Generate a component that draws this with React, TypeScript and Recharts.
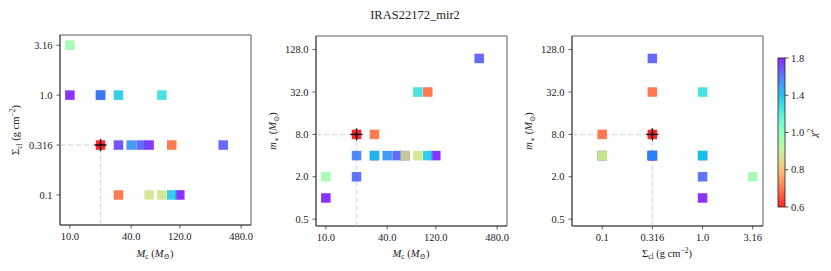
import React from 'react';
import { ScatterChart, Scatter, XAxis, YAxis, ReferenceLine, ReferenceArea } from 'recharts';

// model grid points (one entry per fitted model)
const mcValues = [10, 10, 20, 20, 30, 80, 30, 40, 50, 60, 100, 320, 30, 60, 80, 100, 120];
const sigmaValues = [3.16, 1.0, 1.0, 1.0, 1.0, 1.0, 0.316, 0.316, 0.316, 0.316, 0.316, 0.316, 0.1, 0.1, 0.1, 0.1, 0.1];
const mstarValues = [2, 1, 2, 4, 4, 32, 4, 4, 4, 4, 32, 96, 8, 4, 4, 4, 4];
const chi2Values = [0.96, 1.77, 1.61, 1.56, 1.35, 1.27, 1.69, 1.51, 1.64, 1.75, 0.7, 1.64, 0.7, 0.88, 0.88, 1.35, 1.77];

const best = { mc: 20, sigma: 0.316, mstar: 8, chi2: 0.6 };

const mcTicks = [10, 40, 120, 480];
const sigmaTicks = [0.1, 0.316, 1.0, 3.16];
const mstarTicks = [0.5, 2, 8, 32, 128];
const cbarTicks = [0.6, 0.8, 1.0, 1.4, 1.8];

const mcDomain = [8, 600];
const sigmaDomain = [0.05, 4];
const mstarDomain = [0.4, 200];

const FONT = '"Liberation Serif", "DejaVu Serif", serif';
const ALPHA = 0.85;

const rows = mcValues
    .map((mc, i) => ({ mc, sigma: sigmaValues[i], mstar: mstarValues[i], chi2: chi2Values[i] }))
    .sort((a, b) => b.chi2 - a.chi2);

// matplotlib "rainbow"
function rainbow(t) {
    const r = Math.min(1, Math.abs(2 * t - 0.5));
    const g = Math.sin(Math.PI * t);
    const b = Math.cos((Math.PI * t) / 2);
    const h = v => Math.round(Math.max(0, Math.min(1, v)) * 255);
    return `rgb(${h(r)},${h(g)},${h(b)})`;
}

// colorbar ticks are evenly spaced, so map value -> position piecewise
function chiPos(v) {
    const n = cbarTicks.length - 1;
    for (let i = 0; i < n; i++) {
        if (v <= cbarTicks[i + 1]) {
            const f = (v - cbarTicks[i]) / (cbarTicks[i + 1] - cbarTicks[i]);
            return Math.max(0, (i + f) / n);
        }
    }
    return 1;
}
const chiColor = v => rainbow(1 - chiPos(v));

const fmt = v => (Number.isInteger(v) ? v.toFixed(1) : String(v));

const Square = props => {
    const { cx, cy, payload } = props;
    if (cx == null || cy == null) return null;
    const s = 9.5;
    return <rect x={cx - s / 2} y={cy - s / 2} width={s} height={s} fill={chiColor(payload.chi2)} fillOpacity={ALPHA} />;
};

const BestMark = props => {
    const { cx, cy } = props;
    if (cx == null || cy == null) return null;
    const s = 9.5;
    return (
        <g>
            <rect x={cx - s / 2} y={cy - s / 2} width={s} height={s} fill={chiColor(best.chi2)} fillOpacity={ALPHA} />
            <line x1={cx - 6} x2={cx + 6} y1={cy} y2={cy} stroke="#000" strokeWidth={1.4} />
            <line x1={cx} x2={cx} y1={cy - 6} y2={cy + 6} stroke="#000" strokeWidth={1.4} />
        </g>
    );
};

const XTick = ({ x, y, payload }) => (
    <text x={x} y={y} dy="0.71em" textAnchor="middle" fontFamily={FONT} fontSize={10.5} fill="#222">
        {fmt(payload.value)}
    </text>
);

const YTick = ({ x, y, payload }) => (
    <text x={x} y={y} dy="0.35em" textAnchor="end" fontFamily={FONT} fontSize={10.5} fill="#222">
        {fmt(payload.value)}
    </text>
);

function Panel({ left, top, xKey, yKey, xDomain, yDomain, xTicks, yTicks }) {
    return (
        <div style={{ position: 'absolute', left, top: 0 }}>
            <ScatterChart width={261} height={271} margin={{ top, right: 10, bottom: 271 - top - 190 - 30, left: 10 }}>
                <XAxis type="number" dataKey={xKey} scale="log" domain={xDomain} ticks={xTicks} allowDataOverflow
                    height={30} tickSize={3.5} tickMargin={4} tick={XTick}
                    axisLine={{ stroke: '#333', strokeWidth: 0.8 }} tickLine={{ stroke: '#333', strokeWidth: 0.8 }} />
                <YAxis type="number" dataKey={yKey} scale="log" domain={yDomain} ticks={yTicks} allowDataOverflow
                    width={50} tickSize={3.5} tickMargin={4} tick={YTick}
                    axisLine={{ stroke: '#333', strokeWidth: 0.8 }} tickLine={{ stroke: '#333', strokeWidth: 0.8 }} />
                <ReferenceLine segment={[{ x: xDomain[0], y: best[yKey] }, { x: best[xKey], y: best[yKey] }]}
                    stroke="#ddd" strokeWidth={1.5} strokeDasharray="5 3" />
                <ReferenceLine segment={[{ x: best[xKey], y: yDomain[0] }, { x: best[xKey], y: best[yKey] }]}
                    stroke="#ddd" strokeWidth={1.5} strokeDasharray="5 3" />
                <Scatter data={rows} shape={Square} isAnimationActive={false} />
                <Scatter data={[best]} shape={BestMark} isAnimationActive={false} />
                <ReferenceArea x1={xDomain[0]} x2={xDomain[1]} y1={yDomain[0]} y2={yDomain[1]}
                    fill="none" fillOpacity={0} stroke="#333" strokeWidth={0.8} />
            </ScatterChart>
        </div>
    );
}

function Overlay() {
    const sub = 7.5;
    const cbX = 778, cbY = 58, cbW = 7, cbH = 149;
    const stops = [];
    for (let i = 0; i <= 40; i++) stops.push(i / 40);
    return (
        <svg width={831} height={271} style={{ position: 'absolute', left: 0, top: 0, pointerEvents: 'none' }}
            fontFamily={FONT} fill="#222">
            <text x={415} y={18.5} textAnchor="middle" fontSize={12.5}>IRAS22172_mir2</text>

            {/* x labels */}
            {[155, 411].map(cx => (
                <text key={cx} x={cx} y={256.5} textAnchor="middle" fontSize={10.5}>
                    <tspan fontStyle="italic">M</tspan>
                    <tspan dy={2.5} fontSize={sub}>c</tspan>
                    <tspan dy={-2.5}> (</tspan>
                    <tspan fontStyle="italic">M</tspan>
                    <tspan dy={2.5} fontSize={sub}>⊙</tspan>
                    <tspan dy={-2.5}>)</tspan>
                </text>
            ))}
            <text x={667} y={256.5} textAnchor="middle" fontSize={10.5}>
                <tspan>Σ</tspan>
                <tspan dy={2.5} fontSize={sub}>cl</tspan>
                <tspan dy={-2.5}> (g cm</tspan>
                <tspan dy={-4} fontSize={sub}>−2</tspan>
                <tspan dy={4}>)</tspan>
            </text>

            {/* y labels */}
            <text x={19} y={130} textAnchor="middle" fontSize={10.5} transform="rotate(-90, 19, 130)">
                <tspan>Σ</tspan>
                <tspan dy={2.5} fontSize={sub}>cl</tspan>
                <tspan dy={-2.5}> (g cm</tspan>
                <tspan dy={-4} fontSize={sub}>−2</tspan>
                <tspan dy={4}>)</tspan>
            </text>
            {[276, 532].map(x => (
                <text key={x} x={x} y={131} textAnchor="middle" fontSize={10.5} transform={`rotate(-90, ${x}, 131)`}>
                    <tspan fontStyle="italic">m</tspan>
                    <tspan dy={2.5} fontSize={sub}>∗</tspan>
                    <tspan dy={-2.5}> (</tspan>
                    <tspan fontStyle="italic">M</tspan>
                    <tspan dy={2.5} fontSize={sub}>⊙</tspan>
                    <tspan dy={-2.5}>)</tspan>
                </text>
            ))}

            {/* colorbar */}
            <defs>
                <linearGradient id="cb" x1="0" y1="1" x2="0" y2="0">
                    {stops.map(p => (
                        <stop key={p} offset={p} stopColor={rainbow(1 - p)} stopOpacity={ALPHA} />
                    ))}
                </linearGradient>
            </defs>
            <rect x={cbX} y={cbY} width={cbW} height={cbH} fill="url(#cb)" stroke="#222" strokeWidth={0.8} />
            {cbarTicks.map((v, i) => {
                const y = cbY + cbH - (i / (cbarTicks.length - 1)) * cbH;
                return (
                    <g key={v}>
                        <line x1={cbX + cbW} x2={cbX + cbW + 3.5} y1={y} y2={y} stroke="#222" strokeWidth={0.8} />
                        <text x={cbX + cbW + 6} y={y + 3.6} fontSize={10.5}>{v.toFixed(1)}</text>
                    </g>
                );
            })}
            <text x={817} y={133} textAnchor="middle" fontSize={11} transform="rotate(-90, 817, 133)">
                <tspan fontStyle="italic">χ</tspan>
                <tspan dy={-4} fontSize={sub}>2</tspan>
            </text>
        </svg>
    );
}

export default function App() {
    return (
        <div style={{ position: 'absolute', left: 0, top: 0, width: 831, height: 271, background: '#fff', fontFamily: FONT }}>
            <Panel left={0} top={35} xKey="mc" yKey="sigma" xDomain={mcDomain} yDomain={sigmaDomain}
                xTicks={mcTicks} yTicks={sigmaTicks} />
            <Panel left={256} top={36} xKey="mc" yKey="mstar" xDomain={mcDomain} yDomain={mstarDomain}
                xTicks={mcTicks} yTicks={mstarTicks} />
            <Panel left={512} top={36} xKey="sigma" yKey="mstar" xDomain={sigmaDomain} yDomain={mstarDomain}
                xTicks={sigmaTicks} yTicks={mstarTicks} />
            <Overlay />
        </div>
    );
}
